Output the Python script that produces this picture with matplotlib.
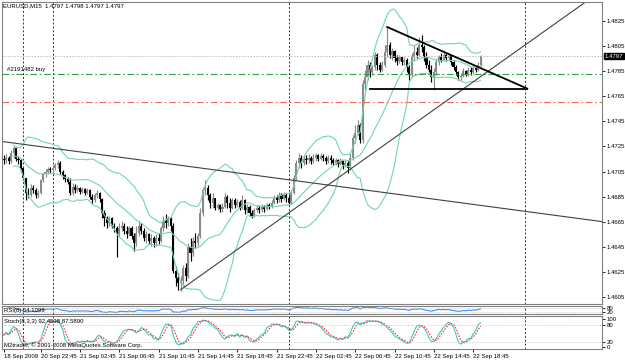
import numpy as np
import pandas as pd
import matplotlib
matplotlib.use('Agg')
import matplotlib.pyplot as plt

plt.rcParams['font.family'] = ['Liberation Sans', 'DejaVu Sans']
plt.rcParams['font.size'] = 4.3

W, H = 625, 363
FS = 4.3

## EURUSD M15 bars, price = 1 + value/10000 (bar 0 = 18 Sep 21:00, open = previous close)
open_first = 4715
close = [4714, 4716, 4713, 4720, 4724, 4715, 4714, 4708,
         4700, 4688, 4686, 4692, 4690, 4686, 4688, 4698, 4703, 4705, 4707, 4706,
         4708, 4710, 4712, 4705, 4702, 4699, 4697, 4688, 4693, 4690,
         4692, 4689, 4691, 4688, 4690, 4685, 4682, 4686, 4688, 4683, 4672,
         4668, 4664, 4668, 4662, 4660, 4655, 4660, 4662, 4658, 4655,
         4660, 4654, 4648, 4656, 4662, 4658, 4652, 4655, 4650, 4652,
         4648, 4652, 4650, 4660, 4666, 4664,
         4668, 4662, 4626, 4620, 4616, 4618, 4628, 4622, 4645, 4640,
         4650, 4648, 4654, 4672, 4690, 4692, 4686, 4680, 4684,
         4676, 4678, 4675, 4677, 4685, 4680, 4676, 4682, 4678, 4681,
         4676, 4682, 4674, 4677, 4672, 4670, 4674, 4676, 4674, 4677,
         4675, 4678, 4677, 4680, 4684, 4682, 4686, 4683, 4686, 4684, 4680,
         4688, 4700, 4712, 4716,
         4712, 4715, 4714, 4716, 4713, 4716, 4718, 4715, 4717, 4716,
         4713, 4716, 4714, 4712, 4714, 4711, 4713, 4710, 4712, 4708,
         4716, 4732, 4736, 4742, 4730, 4775,
         4780, 4790, 4784, 4788, 4798, 4790, 4786, 4790, 4800, 4806,
         4798, 4801, 4795, 4793, 4796, 4792, 4794, 4788, 4782, 4796,
         4800, 4798, 4806, 4804, 4796, 4790, 4786, 4780, 4784, 4792,
         4796, 4794, 4798, 4795, 4797, 4792, 4788, 4784, 4780, 4781,
         4785, 4782, 4786, 4784, 4787, 4786, 4790, 4797]
high = [4718, 4719, 4717, 4722, 4725, 4724, 4717, 4715,
        4708, 4700, 4692, 4695, 4694, 4692, 4690, 4699, 4704, 4707, 4709, 4709,
        4710, 4712, 4714, 4713, 4706, 4703, 4701, 4700, 4696, 4695,
        4694, 4693, 4693, 4692, 4692, 4691, 4687, 4688, 4690, 4689, 4684,
        4674, 4670, 4670, 4669, 4664, 4662, 4664, 4666, 4664, 4662,
        4662, 4662, 4656, 4662, 4666, 4664, 4660, 4658, 4656, 4655,
        4654, 4655, 4656, 4662, 4670, 4671,
        4670, 4669, 4664, 4630, 4624, 4622, 4631, 4632, 4648, 4652,
        4653, 4656, 4656, 4676, 4693, 4698, 4694, 4688, 4688,
        4682, 4680, 4679, 4680, 4688, 4686, 4684, 4684, 4684, 4683,
        4682, 4686, 4683, 4679, 4678, 4674, 4676, 4678, 4678, 4679,
        4678, 4680, 4680, 4682, 4686, 4686, 4689, 4688, 4689, 4688, 4686,
        4690, 4702, 4714, 4720,
        4718, 4718, 4718, 4719, 4717, 4719, 4720, 4719, 4720, 4719,
        4717, 4718, 4718, 4716, 4716, 4715, 4716, 4714, 4714, 4713,
        4720, 4734, 4742, 4746, 4744, 4778,
        4786, 4794, 4792, 4790, 4800, 4799, 4792, 4793, 4806, 4820,
        4808, 4803, 4802, 4798, 4798, 4797, 4796, 4795, 4790, 4799,
        4806, 4804, 4812, 4814, 4806, 4800, 4794, 4790, 4787, 4795,
        4798, 4799, 4800, 4799, 4799, 4798, 4794, 4790, 4785, 4783,
        4787, 4786, 4788, 4788, 4789, 4789, 4792, 4798]
low = [4711, 4712, 4711, 4712, 4716, 4713, 4711, 4705,
       4698, 4682, 4684, 4685, 4688, 4684, 4684, 4687, 4697, 4701, 4703, 4704,
       4704, 4706, 4708, 4703, 4699, 4697, 4695, 4686, 4686, 4688,
       4689, 4687, 4688, 4686, 4687, 4683, 4680, 4681, 4684, 4681, 4668,
       4662, 4660, 4662, 4660, 4657, 4637, 4654, 4658, 4655, 4652,
       4654, 4651, 4642, 4646, 4654, 4655, 4650, 4648, 4647, 4646,
       4645, 4646, 4647, 4649, 4658, 4660,
       4662, 4658, 4624, 4614, 4611, 4610, 4614, 4618, 4620, 4634,
       4638, 4644, 4646, 4652, 4670, 4686, 4682, 4676, 4676,
       4674, 4674, 4673, 4673, 4676, 4676, 4673, 4675, 4676, 4677,
       4674, 4675, 4671, 4672, 4670, 4668, 4669, 4673, 4672, 4673,
       4673, 4674, 4675, 4676, 4679, 4680, 4681, 4681, 4682, 4681, 4678,
       4679, 4687, 4698, 4708,
       4708, 4710, 4711, 4712, 4711, 4712, 4713, 4713, 4714, 4713,
       4711, 4712, 4711, 4710, 4710, 4709, 4710, 4707, 4709, 4704,
       4706, 4714, 4728, 4734, 4728, 4728,
       4770, 4778, 4780, 4782, 4786, 4786, 4784, 4785, 4788, 4796,
       4795, 4794, 4792, 4790, 4791, 4790, 4790, 4784, 4778, 4780,
       4793, 4795, 4797, 4800, 4793, 4787, 4784, 4776, 4770, 4782,
       4790, 4792, 4793, 4793, 4794, 4790, 4786, 4782, 4778, 4778,
       4780, 4781, 4781, 4782, 4783, 4784, 4785, 4789]

# day separators (bar index of first bar of each new day)
sep_bars = [8, 20, 116, 212]

# time axis labels
tick_bars = [0, 15, 31, 47, 63, 79, 95, 111, 127, 143, 159, 175, 191]
tick_labels = ['18 Sep 2009', '20 Sep 22:45', '21 Sep 02:45', '21 Sep 06:45',
               '21 Sep 10:45', '21 Sep 14:45', '21 Sep 18:45', '21 Sep 22:45',
               '22 Sep 02:45', '22 Sep 06:45', '22 Sep 10:45', '22 Sep 14:45',
               '22 Sep 18:45']
price_ticks = [1.4605, 1.4625, 1.4645, 1.4665, 1.4685, 1.4705, 1.4725,
               1.4745, 1.4765, 1.4785, 1.4805, 1.4825]

# drawn objects: (bar, price) pairs
trend_down = ([-1, 244], [1.4729, 1.4665])
trend_up = ([72, 226], [1.4611, 1.4825])
tri_top = ([156, 213], [1.4820, 1.4771])
tri_base = ([149, 213], [1.4771, 1.4771])
order_price = 1.4783
stop_price = 1.4760
bid = 1.4797

c = 1 + np.array(close) / 1e4
h = 1 + np.array(high) / 1e4
l = 1 + np.array(low) / 1e4
o = np.r_[1 + open_first / 1e4, c[:-1]]
n = len(c)
idx = np.arange(n)

## indicators
s = pd.Series(c)
mid = s.rolling(20, min_periods=5).mean()
sd = s.rolling(20, min_periods=5).std(ddof=0)
bb_up = mid + 2 * sd
bb_dn = mid - 2 * sd

d = s.diff()
gain = d.clip(lower=0).ewm(alpha=1 / 8, adjust=False).mean()
loss = (-d.clip(upper=0)).ewm(alpha=1 / 8, adjust=False).mean()
rsi = 100 - 100 / (1 + gain / loss)

hh = pd.Series(h).rolling(8, min_periods=1).max()
ll = pd.Series(l).rolling(8, min_periods=1).min()
stk = 100 * (s - ll).rolling(3, min_periods=1).sum() / (hh - ll).rolling(3, min_periods=1).sum()
std_ = stk.rolling(3, min_periods=1).mean()

## figure
fig = plt.figure(figsize=(W / 100, H / 100), dpi=100)
def box(x0, y0, x1, y1):
    return [x0 / W, 1 - y1 / H, (x1 - x0) / W, (y1 - y0) / H]

ax = fig.add_axes(box(2, 2, 602, 304))
ax_rsi = fig.add_axes(box(2, 306, 602, 314), sharex=ax)
ax_st = fig.add_axes(box(2, 316, 602, 349), sharex=ax)

xlim = (-0.7, 243.4)
for a in (ax, ax_rsi, ax_st):
    for sp in a.spines.values():
        sp.set_color('#808080')
        sp.set_linewidth(0.8)
    for b in sep_bars:
        a.axvline(b, color='#333333', lw=0.7, ls=(0, (2, 2)))
    a.yaxis.tick_right()
    a.tick_params(axis='y', length=2, width=0.6, pad=1.5, labelsize=FS)

# candles
bull = c >= o
cols = np.where(bull, '#8a8a8a', '#000000')
ax.vlines(idx, l, h, colors=cols, lw=0.85)
ax.bar(idx, np.maximum(np.abs(c - o), 0.00003), bottom=np.minimum(o, c),
       width=0.85, color=cols, linewidth=0)

# bollinger bands
for band in (bb_up, mid, bb_dn):
    ax.plot(idx, band, color='#72d6a8', lw=0.8)

# levels
ax.axhline(bid, color='#c0c0c0', lw=0.7, ls=(0, (1.5, 1.5)))
ax.axhline(order_price, color='#2ea043', lw=0.8, ls=(0, (6, 2.5, 1.5, 2.5)))
ax.axhline(stop_price, color='#f07050', lw=0.8, ls=(0, (6, 2.5, 1.5, 2.5)))

# trend lines
ax.plot(*trend_down, color='#404040', lw=0.8)
slope = (trend_up[1][1] - trend_up[1][0]) / (trend_up[0][1] - trend_up[0][0])
ax.plot([trend_up[0][0], xlim[1]],
        [trend_up[1][0], trend_up[1][0] + slope * (xlim[1] - trend_up[0][0])],
        color='#404040', lw=0.8)
ax.plot(*tri_top, color='black', lw=1.3)
ax.plot(*tri_base, color='black', lw=1.3)

ax.set_xlim(*xlim)
ax.set_ylim(1.45996, 1.48399)
ax.set_yticks(price_ticks)
ax.set_yticklabels(['%.4f' % p for p in price_ticks])
ax.tick_params(axis='x', bottom=False, labelbottom=False)

# rsi
ax_rsi.plot(idx, rsi, color='#3b8ff0', lw=0.8)
ax_rsi.axhline(80, color='#c0c0c0', lw=0.5, ls=(0, (2, 2)))
ax_rsi.axhline(20, color='#c0c0c0', lw=0.5, ls=(0, (2, 2)))
ax_rsi.set_ylim(0, 100)
ax_rsi.set_yticks([20, 80])
ax_rsi.tick_params(axis='x', bottom=False, labelbottom=False)
ax_rsi.text(0.003, 0.4, 'RSI(8) 54.1099', transform=ax_rsi.transAxes,
            va='center', ha='left', fontsize=FS)

# stochastic
ax_st.plot(idx, stk, color='#40c8c0', lw=0.8)
ax_st.plot(idx, std_, color='#ff3030', lw=0.8, ls=(0, (1.5, 1.2)))
ax_st.axhline(80, color='#c0c0c0', lw=0.5, ls=(0, (2, 2)))
ax_st.axhline(20, color='#c0c0c0', lw=0.5, ls=(0, (2, 2)))
ax_st.set_ylim(-6, 110)
ax_st.set_yticks([0, 20, 80, 100])
ax_st.text(0.003, 0.83, 'Stoch(8,3,3) 92.4538 87.5890', transform=ax_st.transAxes,
           va='center', ha='left', fontsize=FS)
ax_st.text(0.003, 0.12, 'M2trader, \u00a9 2001-2008 MetaQuotes Software Corp.',
           transform=ax_st.transAxes, va='center', ha='left', fontsize=FS)
ax_st.set_xticks(tick_bars)
ax_st.set_xticklabels(tick_labels, ha='left')
ax_st.tick_params(axis='x', length=2, width=0.6, pad=1.5, labelsize=FS)

# header / labels
fig.text(3 / W, 1 - 6 / H, 'EURUSD,M15  1.4797 1.4798 1.4797 1.4797',
         va='center', ha='left', fontsize=FS)
ax.text(1.5, order_price + 0.00012, '#2191482 buy', va='bottom', ha='left', fontsize=FS)
fig.text(605 / W, 1 - 56 / H, '%.4f' % bid, va='center', ha='left', fontsize=FS,
         color='white', bbox=dict(boxstyle='square,pad=0.15', fc='black', ec='black'))

fig.savefig('out.png', dpi=100)
